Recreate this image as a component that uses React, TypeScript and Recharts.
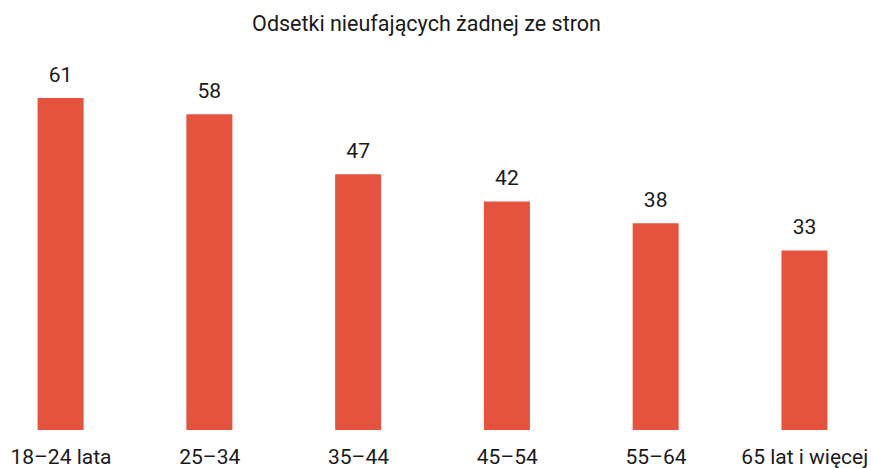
import React from "react";
import { BarChart, Bar, XAxis, YAxis, LabelList } from "recharts";

const categories = ["18–24 lata", "25–34", "35–44", "45–54", "55–64", "65 lat i więcej"];
const values = [61, 58, 47, 42, 38, 33];
const title = "Odsetki nieufających żadnej ze stron";

const data = categories.map((c, i) => ({ name: c, value: values[i] }));

const css = `html,body{margin:0;padding:0;overflow:hidden;} .recharts-surface{overflow:visible;} .recharts-wrapper{overflow:visible;}`;

export default function App() {
  return (
    <div style={{ position: "relative", width: 871, height: 468, fontFamily: "Roboto, sans-serif" }}>
      <style>{css}</style>
      <div
        style={{
          position: "absolute",
          left: 0,
          top: 13.2,
          width: 853,
          textAlign: "center",
          fontSize: 21.5,
          lineHeight: "21.5px",
          color: "#1a1a1a",
          fontFamily: "Roboto, sans-serif",
          zIndex: 1,
        }}
      >
        {title}
      </div>
      <BarChart
        width={871}
        height={468}
        data={data}
        margin={{ top: 98, right: -8.2, bottom: 0, left: -13.4 }}
        style={{ fontFamily: "Roboto, sans-serif" }}
      >
        <XAxis
          dataKey="name"
          axisLine={false}
          tickLine={false}
          tickSize={0}
          tickMargin={19.5}
          height={38}
          interval={0}
          tick={{ fill: "#1a1a1a", fontSize: 21, fontFamily: "Roboto, sans-serif" }}
        />
        <YAxis hide domain={[0, 61]} />
        <Bar dataKey="value" fill="#e5533f" barSize={46} isAnimationActive={false}>
          <LabelList
            dataKey="value"
            position="top"
            offset={16.5}
            fill="#1a1a1a"
            fontSize={21}
            fontFamily="Roboto, sans-serif"
          />
        </Bar>
      </BarChart>
    </div>
  );
}
